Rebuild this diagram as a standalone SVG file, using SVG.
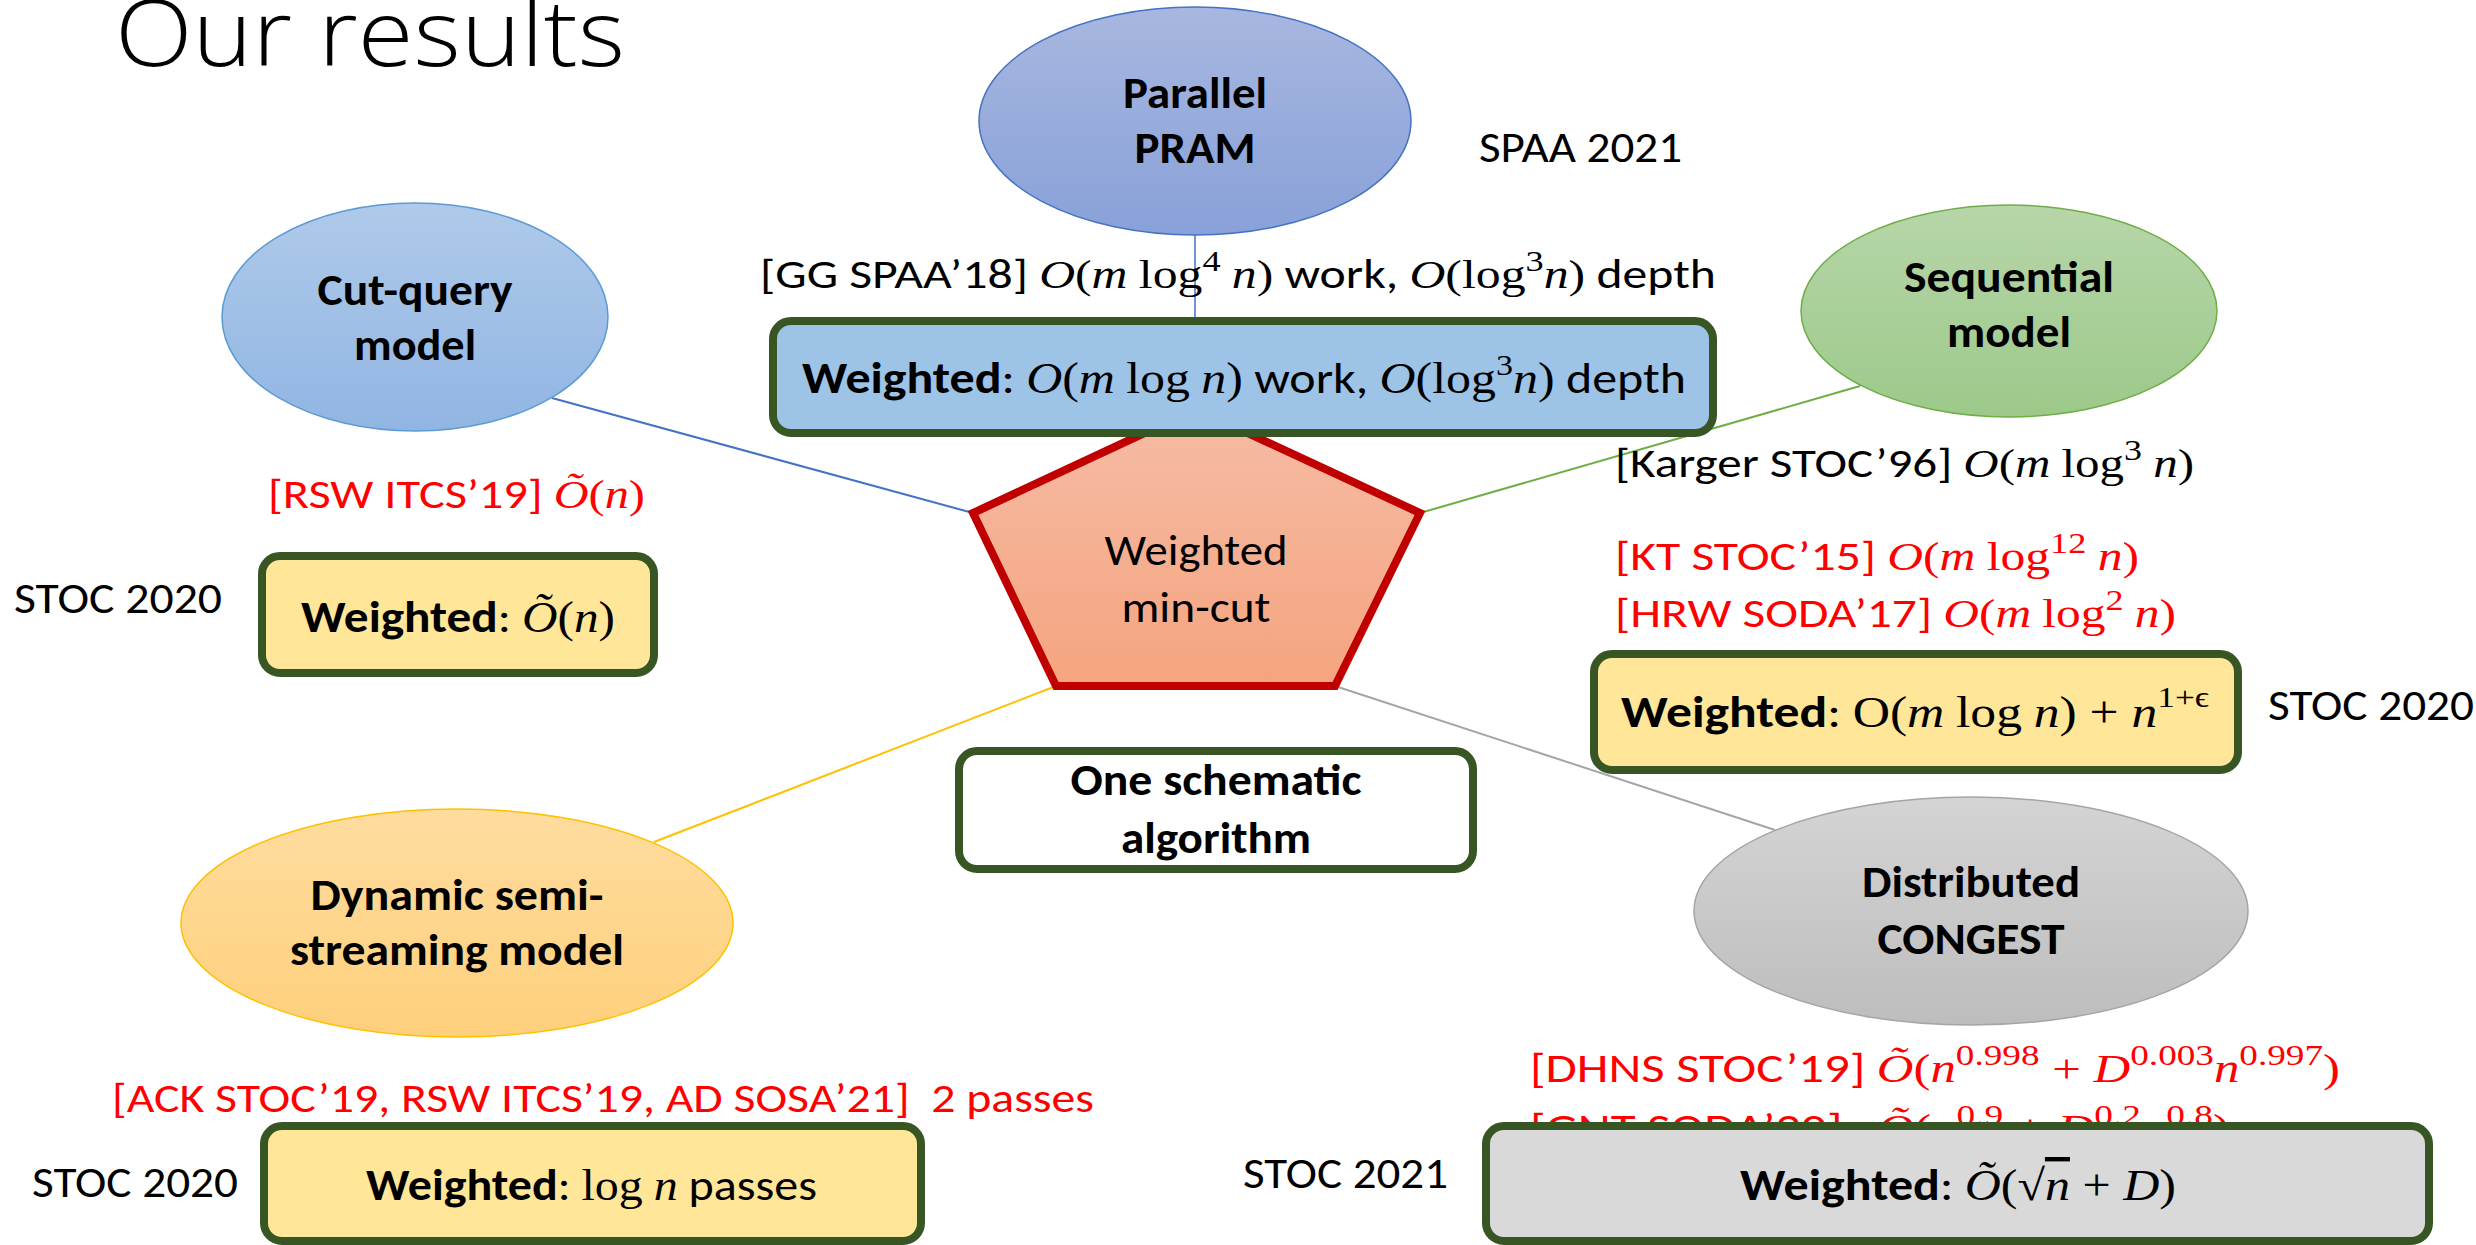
<svg xmlns="http://www.w3.org/2000/svg" width="2476" height="1245" viewBox="0 0 2476 1245">
<defs>
<linearGradient id="gPram" x1="0" y1="0" x2="0" y2="1"><stop offset="0" stop-color="#A8B7E0"/><stop offset="1" stop-color="#88A1D8"/></linearGradient>
<linearGradient id="gCut" x1="0" y1="0" x2="0" y2="1"><stop offset="0" stop-color="#AFCAEA"/><stop offset="1" stop-color="#91B5E2"/></linearGradient>
<linearGradient id="gSeq" x1="0" y1="0" x2="0" y2="1"><stop offset="0" stop-color="#B7D6A9"/><stop offset="1" stop-color="#9CC98A"/></linearGradient>
<linearGradient id="gDyn" x1="0" y1="0" x2="0" y2="1"><stop offset="0" stop-color="#FFDC9F"/><stop offset="1" stop-color="#FED07C"/></linearGradient>
<linearGradient id="gDist" x1="0" y1="0" x2="0" y2="1"><stop offset="0" stop-color="#D4D4D4"/><stop offset="1" stop-color="#BDBDBD"/></linearGradient>
<linearGradient id="gPent" x1="0" y1="0" x2="0" y2="1"><stop offset="0" stop-color="#F5BCA5"/><stop offset="1" stop-color="#F5A47F"/></linearGradient>
</defs>
<style>
text { font-family: Carlito, "Liberation Sans Narrow", "Liberation Sans", sans-serif; fill: #000; }
.title { font-family: "Open Sans", Carlito, "Liberation Sans", sans-serif; font-weight: 300; font-size: 93px; }
.nl { font-weight: bold; font-size: 44px; text-anchor: middle; }
.lbl { font-size: 41px; }
.venue { font-size: 44px; }
.box { font-size: 44px; }
.red { fill: #FF0000; }
.red tspan { fill: #FF0000; }
.b { font-weight: bold; }
.mi { font-family: "Liberation Serif", "DejaVu Serif", serif; font-style: italic; }
.mr { font-family: "Liberation Serif", "DejaVu Serif", serif; }
.sup { font-family: "Liberation Serif", "DejaVu Serif", serif; font-size: 30px; }
.rbox { stroke: #375623; stroke-width: 8; }
.ell { stroke-width: 1.5; }
</style>

<text class="title" x="115" y="66" textLength="510" lengthAdjust="spacingAndGlyphs">Our results</text>

<g id="connectors" fill="none" stroke-width="2">
<line x1="1195" y1="235" x2="1195" y2="318" stroke="#4472C4" stroke-width="1.5"/>
<line x1="552" y1="398" x2="973" y2="513" stroke="#4472C4"/>
<line x1="1860" y1="386" x2="1420" y2="513" stroke="#70AD47"/>
<line x1="654" y1="842" x2="1056" y2="686" stroke="#FFC000"/>
<line x1="1775" y1="830" x2="1335" y2="686" stroke="#A5A5A5"/>
</g>

<g id="mincut">
<polygon points="1196,409 1420,513 1335,686 1056,686 973,513" fill="url(#gPent)" stroke="#C00000" stroke-width="8"/>
<text x="1196" y="565" font-size="44" text-anchor="middle" textLength="183" lengthAdjust="spacingAndGlyphs">Weighted</text>
<text x="1196" y="622" font-size="44" text-anchor="middle" textLength="149" lengthAdjust="spacingAndGlyphs">min-cut</text>
</g>

<g id="pram">
<ellipse cx="1195" cy="121" rx="216" ry="114" fill="url(#gPram)" stroke="#4472C4" class="ell"/>
<text class="nl" x="1195" y="108" textLength="144" lengthAdjust="spacingAndGlyphs">Parallel</text>
<text class="nl" x="1195" y="163" textLength="121" lengthAdjust="spacingAndGlyphs">PRAM</text>
</g>

<g id="cutquery">
<ellipse cx="415" cy="317" rx="193" ry="114" fill="url(#gCut)" stroke="#5B9BD5" class="ell"/>
<text class="nl" x="415" y="305" textLength="195" lengthAdjust="spacingAndGlyphs">Cut-query</text>
<text class="nl" x="415" y="360" textLength="122" lengthAdjust="spacingAndGlyphs">model</text>
</g>

<g id="sequential">
<ellipse cx="2009" cy="311" rx="208" ry="106" fill="url(#gSeq)" stroke="#70AD47" class="ell"/>
<text class="nl" x="2009" y="292" textLength="210" lengthAdjust="spacingAndGlyphs">Sequential</text>
<text class="nl" x="2009" y="347" textLength="124" lengthAdjust="spacingAndGlyphs">model</text>
</g>

<g id="dynamic">
<ellipse cx="457" cy="923" rx="276" ry="114" fill="url(#gDyn)" stroke="#FFC000" class="ell"/>
<text class="nl" x="457" y="910" textLength="293" lengthAdjust="spacingAndGlyphs">Dynamic semi-</text>
<text class="nl" x="457" y="965" textLength="334" lengthAdjust="spacingAndGlyphs">streaming model</text>
</g>

<g id="distributed">
<ellipse cx="1971" cy="911" rx="277" ry="114" fill="url(#gDist)" stroke="#A5A5A5" class="ell"/>
<text class="nl" x="1971" y="897" textLength="218" lengthAdjust="spacingAndGlyphs">Distributed</text>
<text class="nl" x="1971" y="954" textLength="187" lengthAdjust="spacingAndGlyphs">CONGEST</text>
</g>

<g id="pram-result">
<rect class="rbox" x="773" y="321" width="940" height="112" rx="18" fill="#9DC3E6"/>
<text class="box" x="802" y="393" textLength="884" lengthAdjust="spacingAndGlyphs"><tspan class="b">Weighted</tspan>: <tspan class="mi">O</tspan><tspan class="mr">(</tspan><tspan class="mi">m</tspan> <tspan class="mr">log</tspan> <tspan class="mi">n</tspan><tspan class="mr">)</tspan> work, <tspan class="mi">O</tspan><tspan class="mr">(log</tspan><tspan class="sup" dy="-18">3</tspan><tspan class="mi" dy="18">n</tspan><tspan class="mr">)</tspan> depth</text>
</g>

<g id="pram-labels">
<text class="venue" x="1479" y="162" textLength="203" lengthAdjust="spacingAndGlyphs">SPAA 2021</text>
<text class="lbl" x="760" y="288" textLength="956" lengthAdjust="spacingAndGlyphs">[GG SPAA’18] <tspan class="mi">O</tspan><tspan class="mr">(</tspan><tspan class="mi">m</tspan> <tspan class="mr">log</tspan><tspan class="sup" dy="-17">4</tspan> <tspan class="mi" dy="17">n</tspan><tspan class="mr">)</tspan> work, <tspan class="mi">O</tspan><tspan class="mr">(log</tspan><tspan class="sup" dy="-17">3</tspan><tspan class="mi" dy="17">n</tspan><tspan class="mr">)</tspan> depth</text>
</g>

<g id="seq-result">
<rect class="rbox" x="1594" y="654" width="644" height="116" rx="18" fill="#FFE699"/>
<text class="box" x="1621" y="727" textLength="588" lengthAdjust="spacingAndGlyphs"><tspan class="b">Weighted</tspan>: <tspan class="mr">O(</tspan><tspan class="mi">m</tspan> <tspan class="mr">log</tspan> <tspan class="mi">n</tspan><tspan class="mr">) + </tspan><tspan class="mi">n</tspan><tspan class="sup" dy="-20">1+ϵ</tspan></text>
</g>

<g id="seq-labels">
<text class="lbl" x="1615" y="477" textLength="579" lengthAdjust="spacingAndGlyphs">[Karger STOC’96] <tspan class="mi">O</tspan><tspan class="mr">(</tspan><tspan class="mi">m</tspan> <tspan class="mr">log</tspan><tspan class="sup" dy="-17">3</tspan> <tspan class="mi" dy="17">n</tspan><tspan class="mr">)</tspan></text>
<text class="lbl red" x="1615" y="570" textLength="524" lengthAdjust="spacingAndGlyphs">[KT STOC’15] <tspan class="mi">O</tspan><tspan class="mr">(</tspan><tspan class="mi">m</tspan> <tspan class="mr">log</tspan><tspan class="sup" dy="-17">12</tspan> <tspan class="mi" dy="17">n</tspan><tspan class="mr">)</tspan></text>
<text class="lbl red" x="1615" y="627" textLength="561" lengthAdjust="spacingAndGlyphs">[HRW SODA’17] <tspan class="mi">O</tspan><tspan class="mr">(</tspan><tspan class="mi">m</tspan> <tspan class="mr">log</tspan><tspan class="sup" dy="-17">2</tspan> <tspan class="mi" dy="17">n</tspan><tspan class="mr">)</tspan></text>
<text class="venue" x="2268" y="720" textLength="206" lengthAdjust="spacingAndGlyphs">STOC 2020</text>
</g>

<g id="cut-result">
<rect class="rbox" x="262" y="556" width="392" height="117" rx="18" fill="#FFE699"/>
<text class="box" x="301" y="632" textLength="314" lengthAdjust="spacingAndGlyphs"><tspan class="b">Weighted</tspan>: <tspan class="mi">Õ</tspan><tspan class="mr">(</tspan><tspan class="mi">n</tspan><tspan class="mr">)</tspan></text>
<text class="lbl red" x="268" y="508" textLength="377" lengthAdjust="spacingAndGlyphs">[RSW ITCS’19] <tspan class="mi">Õ</tspan><tspan class="mr">(</tspan><tspan class="mi">n</tspan><tspan class="mr">)</tspan></text>
<text class="venue" x="14" y="613" textLength="208" lengthAdjust="spacingAndGlyphs">STOC 2020</text>
</g>

<g id="schematic">
<rect class="rbox" x="959" y="751" width="514" height="118" rx="18" fill="#FFFFFF"/>
<text class="nl" x="1216" y="795" textLength="291" lengthAdjust="spacingAndGlyphs">One schematic</text>
<text class="nl" x="1216" y="853" textLength="190" lengthAdjust="spacingAndGlyphs">algorithm</text>
</g>

<g id="dyn-result">
<text class="lbl red" x="112" y="1112" textLength="982" lengthAdjust="spacingAndGlyphs">[ACK STOC’19, RSW ITCS’19, AD SOSA’21]&#160; 2 passes</text>
<rect class="rbox" x="264" y="1126" width="657" height="115" rx="18" fill="#FFE699"/>
<text class="box" x="366" y="1200" textLength="451" lengthAdjust="spacingAndGlyphs"><tspan class="b">Weighted</tspan>: <tspan class="mr">log</tspan> <tspan class="mi">n</tspan> passes</text>
<text class="venue" x="32" y="1197" textLength="206" lengthAdjust="spacingAndGlyphs">STOC 2020</text>
</g>

<g id="dist-result">
<text class="lbl red" x="1530" y="1082" textLength="810" lengthAdjust="spacingAndGlyphs">[DHNS STOC’19] <tspan class="mi">Õ</tspan><tspan class="mr">(</tspan><tspan class="mi">n</tspan><tspan class="sup" dy="-17">0.998</tspan><tspan class="mr" dy="17"> + </tspan><tspan class="mi">D</tspan><tspan class="sup" dy="-17">0.003</tspan><tspan class="mi" dy="17">n</tspan><tspan class="sup" dy="-17">0.997</tspan><tspan class="mr" dy="17">)</tspan></text>
<text class="lbl red" x="1530" y="1142" textLength="700" lengthAdjust="spacingAndGlyphs">[GNT SODA’20]&#160;&#160; <tspan class="mi">Õ</tspan><tspan class="mr">(</tspan><tspan class="mi">n</tspan><tspan class="sup" dy="-17">0.9</tspan><tspan class="mr" dy="17"> + </tspan><tspan class="mi">D</tspan><tspan class="sup" dy="-17">0.2</tspan><tspan class="mi" dy="17">n</tspan><tspan class="sup" dy="-17">0.8</tspan><tspan class="mr" dy="17">)</tspan></text>
<rect class="rbox" x="1486" y="1126" width="943" height="115" rx="18" fill="#D9D9D9"/>
<text class="box" x="1740" y="1200" textLength="436" lengthAdjust="spacingAndGlyphs"><tspan class="b">Weighted</tspan>: <tspan class="mi">Õ</tspan><tspan class="mr">(√</tspan><tspan class="mi" text-decoration="overline">n</tspan><tspan class="mr"> + </tspan><tspan class="mi">D</tspan><tspan class="mr">)</tspan></text>
<text class="venue" x="1243" y="1188" textLength="205" lengthAdjust="spacingAndGlyphs">STOC 2021</text>
</g>
</svg>
